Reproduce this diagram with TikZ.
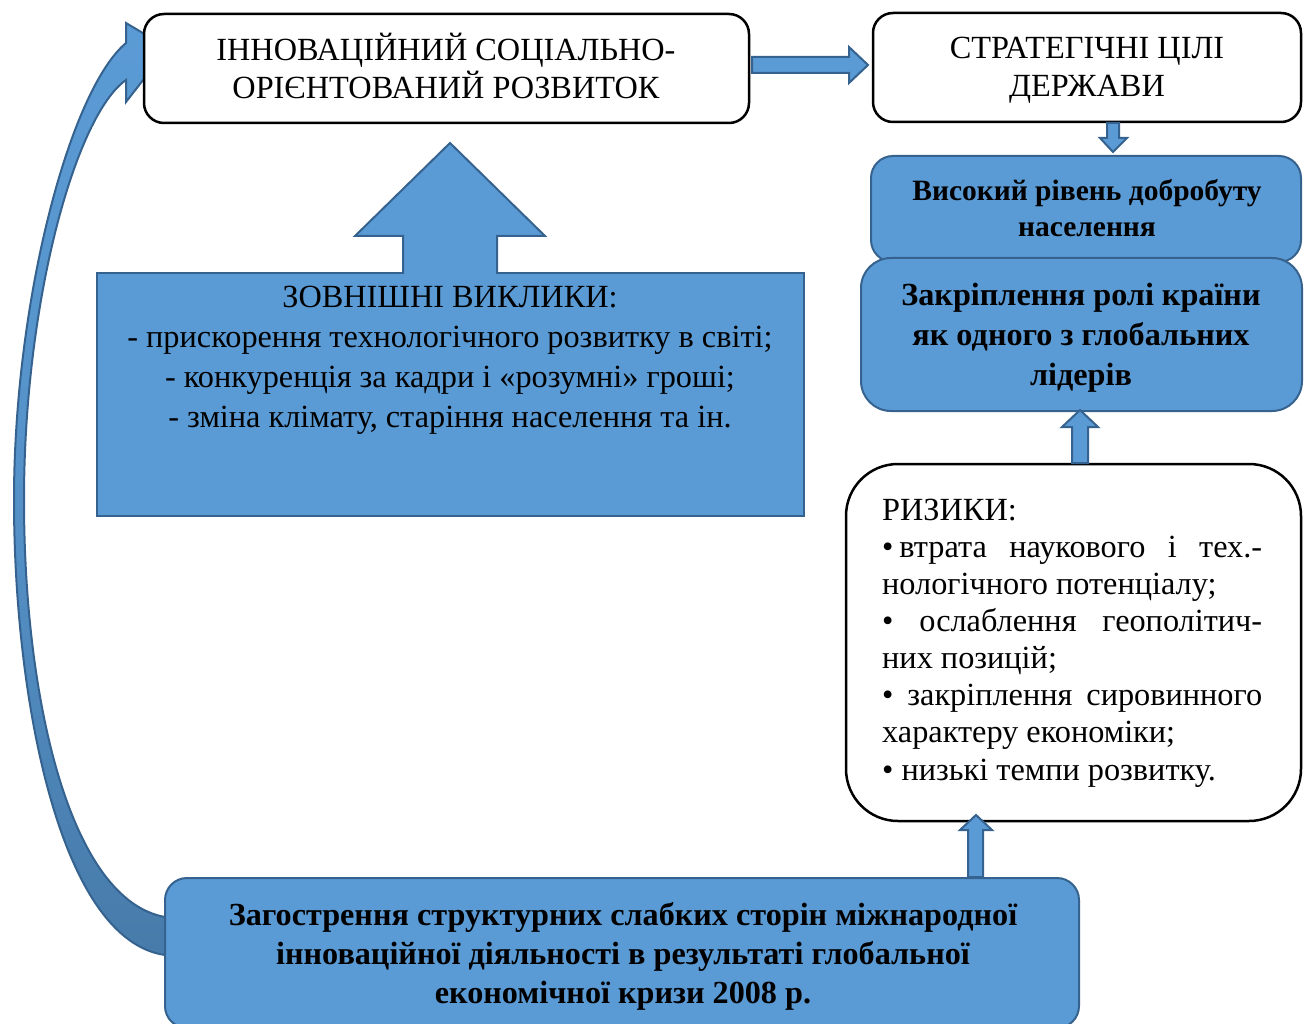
\documentclass[tikz,border=0pt]{standalone}
\usepackage{fontspec}
\setmainfont{Liberation Serif}
\definecolor{myblue}{HTML}{5B9BD5}
\definecolor{mydark}{HTML}{477BAA}
\definecolor{myborder}{HTML}{35628E}
\begin{document}
\begin{tikzpicture}[x=1pt,y=-1pt,
  whitebox/.style={rectangle, fill=white, draw=black, line width=2.5pt, rounded corners=20pt, inner sep=0},
  bluebox/.style={rectangle, fill=myblue, draw=myborder, line width=2pt, inner sep=0},
  blockarrow/.style={fill=myblue, draw=myborder, line width=2pt, line join=miter},
  txt/.style={inner sep=0, align=center},
]
\useasboundingbox (0,0) rectangle (1307,1024);

% curved arrow from bottom box to top box
\draw[draw=myborder, line width=2pt, top color=myblue, bottom color=mydark, middle color=myblue!70!mydark]
  (165,955) .. controls (60,940) and (14,700) .. (14,500)
  .. controls (14,300) and (70,90) .. (126,43)
  -- (126,23) -- (168,48) -- (126,102) -- (126,80)
  .. controls (76,115) and (24,300) .. (24,500)
  .. controls (24,700) and (70,900) .. (165,917) -- cycle;

% boxes
\node[whitebox, minimum width=605, minimum height=109] (A) at (446.5,68.5) {};
\node[whitebox, minimum width=428, minimum height=109] (B) at (1087,67.5) {};
\node[bluebox, rounded corners=22pt, minimum width=430, minimum height=106] (C) at (1086,209) {};
\node[bluebox, rounded corners=30pt, minimum width=441, minimum height=153] (D) at (1081.5,334.5) {};
\node[bluebox, minimum width=707, minimum height=243] (G) at (450.5,394.5) {};

% big up arrow
\fill[myblue] (403,277) -- (403,236) -- (355,236) -- (450,143) -- (545,236) -- (497,236) -- (497,277) -- cycle;
\draw[myborder, line width=2pt, line join=miter] (403,274) -- (403,236) -- (355,236) -- (450,143) -- (545,236) -- (497,236) -- (497,274);

\node[whitebox, rounded corners=52pt, minimum width=455, minimum height=357] (E) at (1073.5,642.5) {};
\node[bluebox, rounded corners=22pt, minimum width=914, minimum height=150] (F) at (622,953) {};

% small block arrows
\draw[blockarrow] (752,57) -- (849,57) -- (849,47) -- (868,65) -- (849,83) -- (849,73) -- (752,73) -- cycle;
\draw[blockarrow] (1107,123) -- (1119,123) -- (1119,138) -- (1127,138) -- (1113,152) -- (1100,138) -- (1107,138) -- cycle;
\draw[blockarrow] (1072,463) -- (1072,427) -- (1062,427) -- (1080,410) -- (1098,427) -- (1088,427) -- (1088,463) -- cycle;
\draw[blockarrow] (968,877) -- (968,830) -- (960,830) -- (976,815) -- (992,830) -- (983,830) -- (983,877) -- cycle;

% texts
\node[txt, font=\fontsize{32.3}{38}\selectfont] (tA) at (446,66) {ІННОВАЦІЙНИЙ СОЦІАЛЬНО-\\ОРІЄНТОВАНИЙ РОЗВИТОК};
\node[txt, font=\fontsize{32.3}{38}\selectfont] (tB) at (1087,70) {СТРАТЕГІЧНІ ЦІЛІ\\ДЕРЖАВИ};
\node[txt, font=\bfseries\fontsize{29.5}{36}\selectfont] (tC) at (1087,208) {Високий рівень добробуту\\населення};
\node[txt, font=\bfseries\fontsize{32.2}{40}\selectfont] (tD) at (1081,338) {Закріплення ролі країни\\як одного з глобальних\\лідерів};
\node[txt, font=\fontsize{32.3}{40}\selectfont] (tG) at (450,360) {ЗОВНІШНІ ВИКЛИКИ:\\- прискорення технологічного розвитку в світі;\\- конкуренція за кадри і «розумні» гроші;\\- зміна клімату, старіння населення та ін.};
\node[txt, font=\fontsize{32.3}{37.1}\selectfont, anchor=west, align=left] (tE) at (882,643) {РИЗИКИ:\\
\makebox[380pt][s]{•\hspace{6pt}втрата наукового і тех.-}\\
нологічного потенціалу;\\
\makebox[380pt][s]{• ослаблення геополітич-}\\
них позицій;\\
\makebox[380pt][s]{• закріплення сировинного}\\
характеру економіки;\\
• низькі темпи розвитку.};
\node[txt, font=\bfseries\fontsize{32.2}{39}\selectfont] (tF) at (623,956) {Загострення структурних слабких сторін міжнародної\\інноваційної діяльності в результаті глобальної\\економічної кризи 2008 р.};
\end{tikzpicture}
\end{document}
